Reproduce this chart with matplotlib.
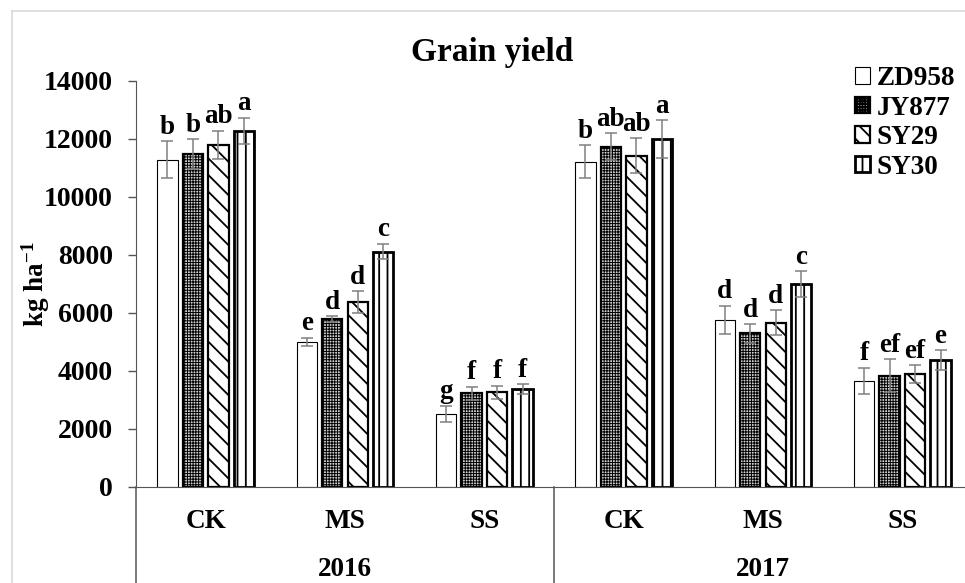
import matplotlib
matplotlib.use("Agg")
import matplotlib.pyplot as plt
import numpy as np

plt.rcParams['font.family'] = ['Liberation Serif', 'DejaVu Serif']
plt.rcParams['font.weight'] = 'bold'
plt.rcParams['mathtext.fontset'] = 'custom'
plt.rcParams['mathtext.rm'] = 'Liberation Serif:bold'
plt.rcParams['mathtext.bf'] = 'Liberation Serif:bold'
plt.rcParams['mathtext.default'] = 'bf'

# Treatments within each year, and years
categories = ['CK', 'MS', 'SS', 'CK', 'MS', 'SS']
years = ['2016', '2017']
cultivars = ['ZD958', 'JY877', 'SY29', 'SY30']

# Grain yield means (kg ha-1), one list per cultivar, ordered as categories
zd958 = [11280, 5010, 2520, 11220, 5760, 3670]
jy877 = [11480, 5790, 3230, 11740, 5300, 3830]
sy29 = [11790, 6380, 3265, 11430, 5665, 3885]
sy30 = [12280, 8120, 3370, 12000, 7000, 4380]

# Standard errors
zd958_err = [640, 140, 290, 560, 490, 450]
jy877_err = [510, 100, 230, 460, 320, 570]
sy29_err = [490, 370, 230, 600, 430, 310]
sy30_err = [460, 265, 180, 640, 450, 345]

# Significance letters
zd958_sig = ['b', 'e', 'g', 'b', 'd', 'f']
jy877_sig = ['b', 'd', 'f', 'ab', 'd', 'ef']
sy29_sig = ['ab', 'd', 'f', 'ab', 'd', 'ef']
sy30_sig = ['a', 'c', 'f', 'a', 'c', 'e']

yticks = [0, 2000, 4000, 6000, 8000, 10000, 12000, 14000]

W, H = 965, 583
fig = plt.figure(figsize=(W / 100, H / 100), dpi=100)
ax = fig.add_axes([136 / W, 96 / H, 836 / W, 406 / H])

x = np.arange(len(categories))
pitch = 0.183
width = 0.147
axis_col = '#555555'
err_col = '#808080'

series = [
    (zd958, zd958_err, zd958_sig, dict(facecolor='white', edgecolor='black', linewidth=0.8, hatch=None), 1.0),
    (jy877, jy877_err, jy877_sig, dict(facecolor='#d0d0d0', edgecolor='black', linewidth=1.6, hatch='++++++'), 0.7),
    (sy29, sy29_err, sy29_sig, dict(facecolor='white', edgecolor='black', linewidth=1.6, hatch='\\\\'), 1.3),
    (sy30, sy30_err, sy30_sig, dict(facecolor='white', edgecolor='black', linewidth=2.0, hatch='||'), 1.3),
]

for i, (vals, errs, sigs, style, hlw) in enumerate(series):
    plt.rcParams['hatch.linewidth'] = hlw
    xs = x + (i - 1.5) * pitch
    ax.bar(xs, vals, width, label=cultivars[i], zorder=2, **style)
    ax.errorbar(xs, vals, yerr=errs, fmt='none', ecolor=err_col, elinewidth=1.1,
                capsize=4, capthick=1.1, zorder=3)
    for xi, v, e, s in zip(xs, vals, errs, sigs):
        ax.annotate(s, (xi, v + e), xytext=(0, 1), textcoords='offset points',
                    ha='center', va='bottom', fontsize=19.5, fontweight='bold')

ax.set_xlim(-0.5, len(categories) - 0.5)
ax.set_ylim(0, 14000)
ax.set_yticks(yticks)
ax.set_yticklabels([str(t) for t in yticks])
ax.set_xticks([])
ax.tick_params(axis='y', direction='out', length=5.8, width=1, color=axis_col,
               pad=11, labelsize=20)
for side in ['top', 'right']:
    ax.spines[side].set_visible(False)
ax.spines['left'].set_color(axis_col)
ax.spines['bottom'].set_color(axis_col)

# Multi-level category axis: treatment labels, year labels and group dividers
trans = ax.get_xaxis_transform()
for xi, c in zip(x, categories):
    ax.text(xi, -0.085, c, transform=trans, ha='center', va='center',
            fontsize=19.5, fontweight='bold')
for k, yr in enumerate(years):
    ax.text(3 * k + 1, -0.203, yr, transform=trans, ha='center', va='center',
            fontsize=19.5, fontweight='bold')
for xd in [-0.5, 2.5, 5.5]:
    ax.plot([xd, xd], [0, -0.4], transform=trans, color=axis_col, lw=1.1,
            clip_on=False)

ax.set_ylabel(r'kg ha$^{-1}$', fontsize=19.5, fontweight='bold')
ax.yaxis.set_label_coords(-0.101, 0.5)

fig.text(492 / W, 1 - 53 / H, 'Grain yield', ha='center', va='center',
         fontsize=24, fontweight='bold')

leg = fig.legend(loc='upper left', bbox_to_anchor=(855 / W, 1 - 66 / H),
                 frameon=False, fontsize=19.5, handlelength=0.55,
                 handleheight=0.55, handletextpad=0.25, labelspacing=0.17,
                 borderpad=0, borderaxespad=0)

# Chart area border
fig.add_artist(plt.Line2D([12 / W, 12 / W], [0, 1 - 11 / H], color='#d9d9d9', lw=1.2))
fig.add_artist(plt.Line2D([12 / W, 1], [1 - 11 / H, 1 - 11 / H], color='#d9d9d9', lw=1.2))

fig.savefig('out.png', dpi=100)
